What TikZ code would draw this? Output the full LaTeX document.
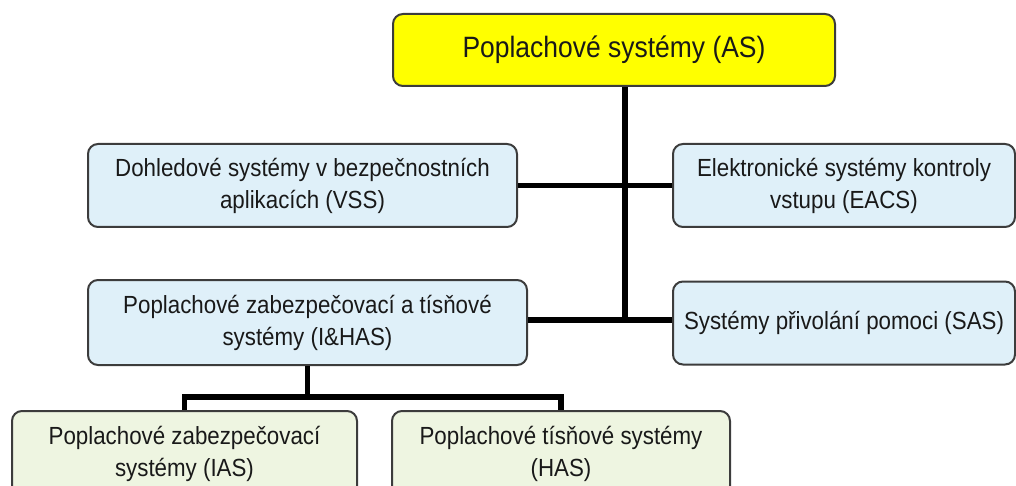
\documentclass[tikz,border=0pt]{standalone}
\usepackage{fontspec}
\setmainfont[FakeStretch=0.9]{Liberation Sans}
\usepackage{tikz}
\usetikzlibrary{positioning,calc}
\definecolor{asyellow}{HTML}{FFFF00}
\definecolor{subblue}{HTML}{DFF0F9}
\definecolor{leafgreen}{HTML}{EEF5E1}
\definecolor{boxline}{HTML}{3C3C3C}

\begin{document}
\begin{tikzpicture}[
      x=0.5pt, y=-0.5pt,
      sysbox/.style={
        draw=boxline,
        line width=1pt,
        rounded corners=5pt,
        align=center,
        inner sep=0pt,
        text=black!90,
        font=\fontsize{12.4}{16}\selectfont
      },
      topbox/.style={
        sysbox,
        fill=asyellow,
        minimum width=221pt,
        minimum height=36pt,
        font=\fontsize{14.7}{17}\selectfont
      },
      midbox/.style={
        sysbox,
        fill=subblue,
        minimum height=41.5pt
      },
      leafbox/.style={
        sysbox,
        fill=leafgreen,
        minimum height=42.5pt
      },
      link/.style={
        line width=2.6pt,
        black
      }
    ]

    \clip (0,0) rectangle (1016,486);

    \node[topbox] (as) at (614,50)
      {Poplachové systémy (AS)};

    \node[midbox,minimum width=214.5pt] (vss) at (302.5,185.5)
      {Dohledové systémy v bezpečnostních\\aplikacích (VSS)};

    \node[midbox,minimum width=171pt] (eacs) at (844,185.5)
      {Elektronické systémy kontroly\\vstupu (EACS)};

    \node[midbox,minimum width=219.5pt,minimum height=42.5pt] (ihas) at (307.5,322.5)
      {Poplachové zabezpečovací a tísňové\\systémy (I\&HAS)};

    \node[midbox,minimum width=171pt] (sas) at (844,323)
      {Systémy přivolání pomoci (SAS)};

    \node[leafbox,minimum width=172.5pt] (ias) at (184.5,453.5)
      {Poplachové zabezpečovací\\systémy (IAS)};

    \node[leafbox,minimum width=169pt] (has) at (561,453.5)
      {Poplachové tísňové systémy\\(HAS)};

    % trunk and branches
    \coordinate (jA) at (625,185.5);
    \coordinate (jB) at (625,320);
    \coordinate (jC) at (307.5,397);

    \draw[link] (as.south -| jA) -- (jB);
    \draw[link] (vss) -- (eacs);
    \draw[link] (ihas.east |- jB) -- (sas.west |- jB);

    \draw[link] (ihas.south) -- (jC);
    \draw[link] (ias.north) |- (jC) -| (has.north);

  \end{tikzpicture}
\end{document}
